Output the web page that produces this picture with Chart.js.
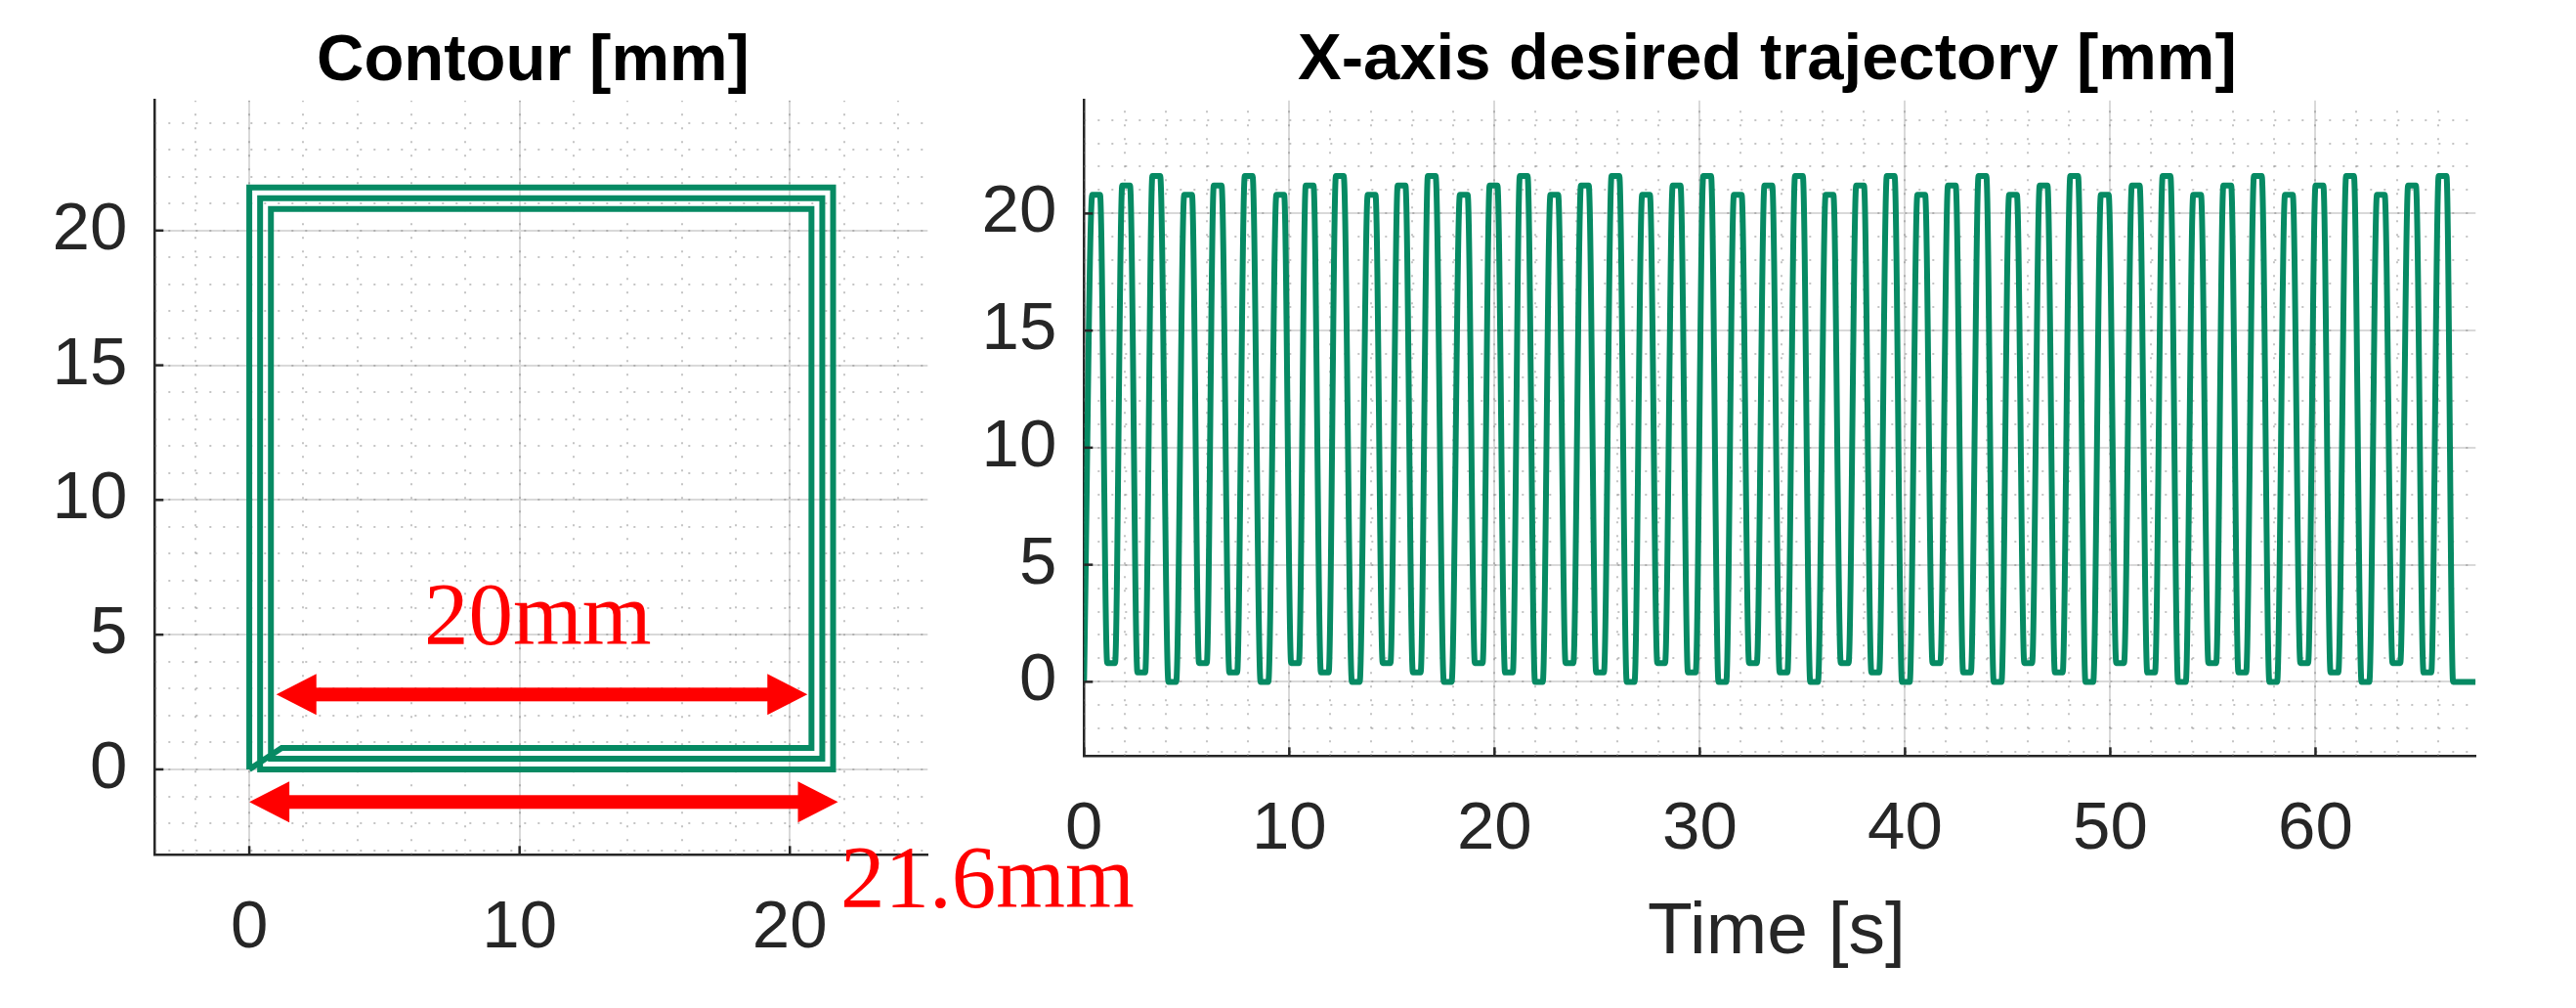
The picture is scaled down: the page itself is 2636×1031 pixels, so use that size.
<!DOCTYPE html>
<html lang="en">
<head>
<meta charset="utf-8">
<title>Contour [mm] / X-axis desired trajectory [mm]</title>
<script src="https://cdn.jsdelivr.net/npm/chart.js@4.4.1/dist/chart.umd.min.js"></script>
<style>
  html, body { margin: 0; padding: 0; background: #ffffff; }
  #page { position: relative; width: 2636px; height: 1031px; overflow: hidden; }
  canvas { position: absolute; top: 0; }
  #contourChart { left: 0; }
  #trajChart { left: 1000px; }
  .lbl { position: absolute; white-space: nowrap; line-height: 1; }
  .title { font: bold 67px "Liberation Sans", Arial, sans-serif; color: #000; }
  .axis-label { font: 75px "Liberation Sans", Arial, sans-serif; color: #262626; }
  .note { font: 91px "Liberation Serif", "Times New Roman", serif; color: #ff0000; }
</style>
</head>
<body>
<div id="page">
  <canvas id="contourChart" width="1000" height="1031"></canvas>
  <canvas id="trajChart" width="1636" height="1031"></canvas>
  <div class="lbl title" style="left:324px; top:20px;">Contour [mm]</div>
  <div class="lbl title" style="left:1328px; top:19px;">X-axis desired trajectory [mm]</div>
  <div class="lbl axis-label" style="left:1818px; top:906px; transform:translateX(-50%);">Time [s]</div>
  <div class="lbl note" style="left:434px; top:576px;">20mm</div>
  <div class="lbl note" style="left:860px; top:845px;">21.6mm</div>
</div>
<script>
// ── Contour: one lap over the three nested squares [mm] ───────
const contourX = [0, 1.2, 20.8, 20.8, 0.8, 0.8, 21.2, 21.2, 0.4, 0.4, 21.6, 21.6, 0, 0];
const contourY = [0, 0.8, 0.8, 20.8, 20.8, 0.4, 0.4, 21.2, 21.2, 0, 0, 21.6, 21.6, 0];
const contourXTicks = [0, 10, 20];
const contourYTicks = [0, 5, 10, 15, 20];

// ── X-axis trajectory: centre time of each flat top / bottom [s] and its level [mm]
const peakTimes = [
  0.59, 2.05, 3.52, 5.07, 6.51, 8.02, 9.56, 10.99, 12.46, 14.01,
  15.47, 16.94, 18.50, 19.95, 21.42, 22.91, 24.40, 25.89, 27.38, 28.87,
  30.36, 31.85, 33.34, 34.83, 36.32, 37.81, 39.30, 40.79, 42.28, 43.77,
  45.26, 46.75, 48.24, 49.73, 51.24, 52.74, 54.23, 55.70, 57.19, 58.70,
  60.19, 61.68, 63.18, 64.70, 66.19,
];
const peakLevels = [
  20.8, 21.2, 21.6, 20.8, 21.2, 21.6, 20.8, 21.2, 21.6, 20.8,
  21.2, 21.6, 20.8, 21.2, 21.6, 20.8, 21.2, 21.6, 20.8, 21.2,
  21.6, 20.8, 21.2, 21.6, 20.8, 21.2, 21.6, 20.8, 21.2, 21.6,
  20.8, 21.2, 21.6, 20.8, 21.2, 21.6, 20.8, 21.2, 21.6, 20.8,
  21.2, 21.6, 20.8, 21.2, 21.6,
];
const troughTimes = [
  1.32, 2.79, 4.30, 5.79, 7.27, 8.79, 10.28, 11.73, 13.24, 14.74,
  16.21, 17.72, 19.23, 20.70, 22.16, 23.65, 25.14, 26.63, 28.12, 29.61,
  31.10, 32.59, 34.08, 35.57, 37.06, 38.55, 40.04, 41.53, 43.02, 44.51,
  46.00, 47.49, 48.98, 50.48, 51.99, 53.49, 54.97, 56.43, 57.94, 59.45,
  60.92, 62.43, 63.94, 65.45,
];
const troughLevels = [
  0.8, 0.4, 0, 0.8, 0.4, 0, 0.8, 0.4, 0, 0.8,
  0.4, 0, 0.8, 0.4, 0, 0.8, 0.4, 0, 0.8, 0.4,
  0, 0.8, 0.4, 0, 0.8, 0.4, 0, 0.8, 0.4, 0,
  0.8, 0.4, 0, 0.8, 0.4, 0, 0.8, 0.4, 0, 0.8,
  0.4, 0, 0.8, 0.4,
];
const dropTime = 66.70;   // last fall back to 0 mm
const endTime = 67.8;
const timeTicks = [0, 10, 20, 30, 40, 50, 60];
const trajYTicks = [0, 5, 10, 15, 20];

// ── Dimension arrows on the contour plot: [x from, x to, y] in mm
const innerArrow = [1.0, 20.65, 2.78];
const outerArrow = [0.0, 21.78, -1.21];

// ── Styling ───────────────────────────────────────────────────
const COLORS = {
  line:  "#068a63",
  axis:  "#262626",
  grid:  "#d9d9d9",
  minor: "rgba(125,125,125,0.45)",
  red:   "#ff0000",
};
const PLATEAU = 0.19;   // half length of a flat top / bottom [s]

Chart.defaults.font.family = '"Liberation Sans", Arial, Helvetica, sans-serif';
Chart.defaults.animation = false;

// ── Plugins ───────────────────────────────────────────────────
// MATLAB style dotted minor grid and inward tick marks
const matlabGrid = {
  id: "matlabGrid",
  beforeDatasetsDraw(chart, args, opts) {
    const { ctx, chartArea: a, scales: { x, y } } = chart;
    ctx.save();
    ctx.beginPath();
    ctx.rect(a.left, a.top, a.right - a.left, a.bottom - a.top);
    ctx.clip();
    ctx.strokeStyle = COLORS.minor;
    ctx.lineWidth = 2;
    ctx.setLineDash([2, 12]);
    for (let k = Math.ceil(x.min / opts.xMinor); k * opts.xMinor <= x.max; k++) {
      const px = Math.round(x.getPixelForValue(k * opts.xMinor));
      ctx.beginPath(); ctx.moveTo(px, a.bottom); ctx.lineTo(px, a.top); ctx.stroke();
    }
    for (let k = Math.ceil(y.min / opts.yMinor); k * opts.yMinor <= y.max; k++) {
      const py = Math.round(y.getPixelForValue(k * opts.yMinor));
      ctx.beginPath(); ctx.moveTo(a.left, py); ctx.lineTo(a.right, py); ctx.stroke();
    }
    ctx.restore();
  },
  afterDraw(chart) {
    const { ctx, chartArea: a, scales: { x, y } } = chart;
    ctx.save();
    ctx.strokeStyle = COLORS.axis;
    ctx.lineWidth = 2.5;
    x.ticks.forEach(t => {
      const px = x.getPixelForValue(t.value);
      ctx.beginPath(); ctx.moveTo(px, a.bottom); ctx.lineTo(px, a.bottom - 9); ctx.stroke();
    });
    y.ticks.forEach(t => {
      const py = y.getPixelForValue(t.value);
      ctx.beginPath(); ctx.moveTo(a.left, py); ctx.lineTo(a.left + 9, py); ctx.stroke();
    });
    ctx.restore();
  },
};

// red double-headed dimension arrows
const dimArrows = {
  id: "dimArrows",
  afterDatasetsDraw(chart) {
    const { ctx, scales: { x, y } } = chart;
    const head = 41, half = 21, shaft = 7;
    ctx.save();
    ctx.fillStyle = COLORS.red;
    [innerArrow, outerArrow].forEach(([from, to, at]) => {
      const x0 = x.getPixelForValue(from);
      const x1 = x.getPixelForValue(to);
      const py = y.getPixelForValue(at);
      ctx.fillRect(x0 + head - 1, py - shaft, x1 - x0 - 2 * head + 2, shaft * 2);
      ctx.beginPath();
      ctx.moveTo(x0, py); ctx.lineTo(x0 + head, py - half); ctx.lineTo(x0 + head, py + half);
      ctx.closePath(); ctx.fill();
      ctx.beginPath();
      ctx.moveTo(x1, py); ctx.lineTo(x1 - head, py - half); ctx.lineTo(x1 - head, py + half);
      ctx.closePath(); ctx.fill();
    });
    ctx.restore();
  },
};

// ── Axis factory ──────────────────────────────────────────────
function makeAxis(min, max, ticks, kind, size) {
  return {
    type: "linear",
    min, max,
    afterBuildTicks: s => { s.ticks = ticks.map(v => ({ value: v })); },
    afterFit: s => { if (kind === "x") s.height = size; else s.width = size; },
    ticks: {
      color: COLORS.axis,
      font: { size: 69 },
      padding: kind === "x" ? 34 : 28,
      maxRotation: 0,
      autoSkip: false,
      callback: v => String(v),
    },
    grid: { color: COLORS.grid, lineWidth: 2, drawTicks: false },
    border: { color: COLORS.axis, width: 2.5 },
  };
}

// ── Contour plot ──────────────────────────────────────────────
new Chart(document.getElementById("contourChart"), {
  type: "scatter",
  data: {
    datasets: [{
      data: contourX.map((v, i) => ({ x: v, y: contourY[i] })),
      showLine: true,
      borderColor: COLORS.line,
      borderWidth: 6,
      borderJoinStyle: "miter",
      pointRadius: 0,
      tension: 0,
    }],
  },
  options: {
    responsive: false,
    layout: { padding: { left: 0, top: 102.7, right: 50.7, bottom: 0 } },
    plugins: {
      legend: { display: false },
      tooltip: { enabled: false },
      matlabGrid: { xMinor: 2, yMinor: 1 },
    },
    scales: {
      x: makeAxis(-3.5, 25.1, contourXTicks, "x", 156.7),
      y: makeAxis(-3.17, 24.83, contourYTicks, "y", 158.3),
    },
  },
  plugins: [matlabGrid, dimArrows],
});

// ── X-axis desired trajectory ─────────────────────────────────
const trajPoints = [{ x: 0, y: 0 }];
peakTimes.forEach((t, i) => {
  trajPoints.push({ x: t - PLATEAU, y: peakLevels[i] }, { x: t + PLATEAU, y: peakLevels[i] });
  if (i < troughTimes.length) {
    const tt = troughTimes[i];
    trajPoints.push({ x: tt - PLATEAU, y: troughLevels[i] }, { x: tt + PLATEAU, y: troughLevels[i] });
  }
});
trajPoints.push({ x: dropTime, y: 0 }, { x: endTime, y: 0 });

new Chart(document.getElementById("trajChart"), {
  type: "line",
  data: {
    datasets: [{
      data: trajPoints,
      borderColor: COLORS.line,
      borderWidth: 6,
      borderJoinStyle: "round",
      pointRadius: 0,
      cubicInterpolationMode: "monotone",
    }],
  },
  options: {
    responsive: false,
    layout: { padding: { left: 0, top: 102.7, right: 102.7, bottom: 0 } },
    plugins: {
      legend: { display: false },
      tooltip: { enabled: false },
      matlabGrid: { xMinor: 2, yMinor: 1 },
    },
    scales: {
      x: makeAxis(0, 67.8, timeTicks, "x", 257.7),
      y: makeAxis(-3.17, 24.83, trajYTicks, "y", 109.3),
    },
  },
  plugins: [matlabGrid],
});
</script>
</body>
</html>
